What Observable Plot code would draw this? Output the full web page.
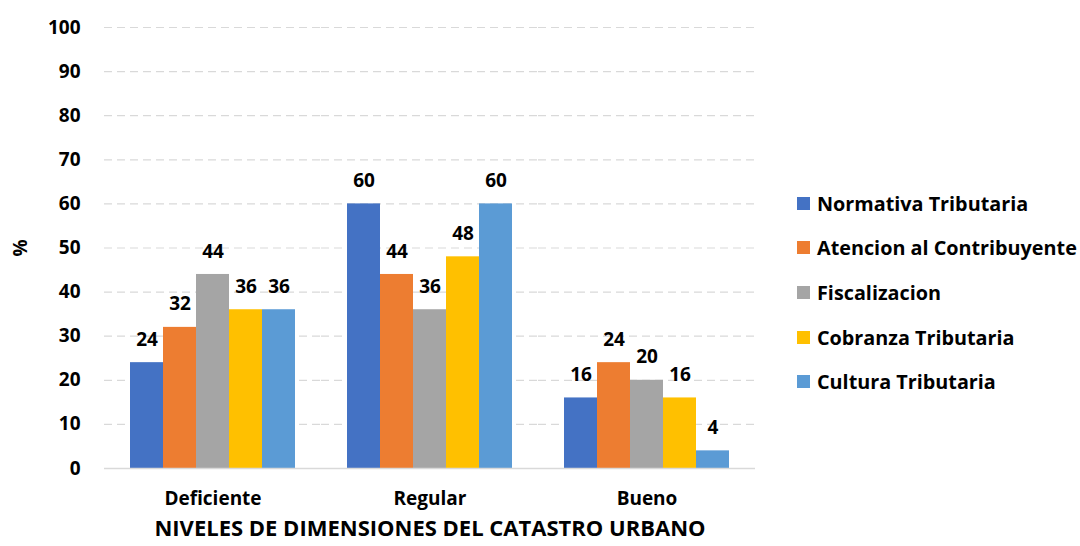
<!DOCTYPE html>
<html>
<head>
<meta charset="utf-8">
<script src="https://cdn.jsdelivr.net/npm/d3@7"></script>
<script src="https://cdn.jsdelivr.net/npm/@observablehq/plot@0.6"></script>
<style>
  html, body { margin: 0; padding: 0; background: #fff; }
  #wrap { position: relative; width: 1080px; height: 546px; overflow: hidden; font-family: "Open Sans", Lato, sans-serif; font-weight: bold; color: #000; }
  #chart { position: absolute; left: 0; top: 0; }
  #title { position: absolute; left: 0; width: 860px; text-align: center; top: 516px; font-size: 22px; line-height: 22px; white-space: nowrap; }
  #legend { position: absolute; left: 797px; top: 0; }
  .row { position: absolute; left: 0; display: flex; align-items: center; white-space: nowrap; font-size: 19.8px; }
  .sw { width: 13px; height: 13px; margin-right: 7px; }
</style>
</head>
<body>
<div id="wrap">
  <div id="chart"></div>
  <div id="title"></div>
  <div id="legend"></div>
</div>
<script>
const niveles = ["Deficiente", "Regular", "Bueno"];
const series = ["Normativa Tributaria", "Atencion al Contribuyente", "Fiscalizacion", "Cobranza Tributaria", "Cultura Tributaria"];
const colores = ["#4472C4", "#ED7D31", "#A5A5A5", "#FFC000", "#5B9BD5"];
const normativa = [24, 60, 16];
const atencion = [32, 44, 24];
const fiscalizacion = [44, 36, 20];
const cobranza = [36, 48, 16];
const cultura = [36, 60, 4];
const yTicks = [0, 10, 20, 30, 40, 50, 60, 70, 80, 90, 100];
const tituloX = "NIVELES DE DIMENSIONES DEL CATASTRO URBANO";
const tituloY = "%";

const valores = [normativa, atencion, fiscalizacion, cobranza, cultura];
const data = [];
niveles.forEach((n, i) => {
  series.forEach((s, j) => {
    data.push({nivel: n, serie: s, valor: valores[j][i]});
  });
});

const chart = Plot.plot({
  width: 1080,
  height: 546,
  marginLeft: 104,
  marginRight: 325,
  marginTop: 27,
  marginBottom: 78,
  style: {fontFamily: "'Open Sans', Lato, sans-serif", fontWeight: "bold", fontSize: "19px", color: "#000", background: "transparent"},
  fx: {domain: niveles, paddingInner: 0.23, paddingOuter: 0.115, label: null, tickSize: 0, tickPadding: 23},
  x: {domain: series, axis: null, padding: 0},
  y: {domain: [0, 100], ticks: yTicks, tickSize: 0, tickPadding: 49, label: tituloY, labelAnchor: "center", labelArrow: "none", labelOffset: 116},
  color: {domain: series, range: colores},
  marks: [
    Plot.ruleY(yTicks.filter(d => d > 0), {stroke: "#d9d9d9", strokeWidth: 1.2, strokeDasharray: "8,5", insetLeft: -25, insetRight: -25}),
    Plot.barY(data, {fx: "nivel", x: "serie", y: "valor", fill: "serie"}),
    Plot.ruleY([0], {stroke: "#d9d9d9", strokeWidth: 1.5, insetLeft: -25, insetRight: -25}),
    Plot.text(data, {fx: "nivel", x: "serie", y: "valor", text: d => String(d.valor), dy: -23, fontSize: 19, fontWeight: "bold", fill: "#000"})
  ]
});
document.getElementById("chart").appendChild(chart);
document.getElementById("title").textContent = tituloX;

const legend = document.getElementById("legend");
const rowY = [203, 247, 292, 337, 381];
series.forEach((s, i) => {
  const row = document.createElement("div");
  row.className = "row";
  row.style.top = (rowY[i] - 13) + "px";
  row.style.height = "26px";
  const sw = document.createElement("div");
  sw.className = "sw";
  sw.style.background = colores[i];
  const t = document.createElement("span");
  t.textContent = s;
  row.appendChild(sw);
  row.appendChild(t);
  legend.appendChild(row);
});
</script>
</body>
</html>
